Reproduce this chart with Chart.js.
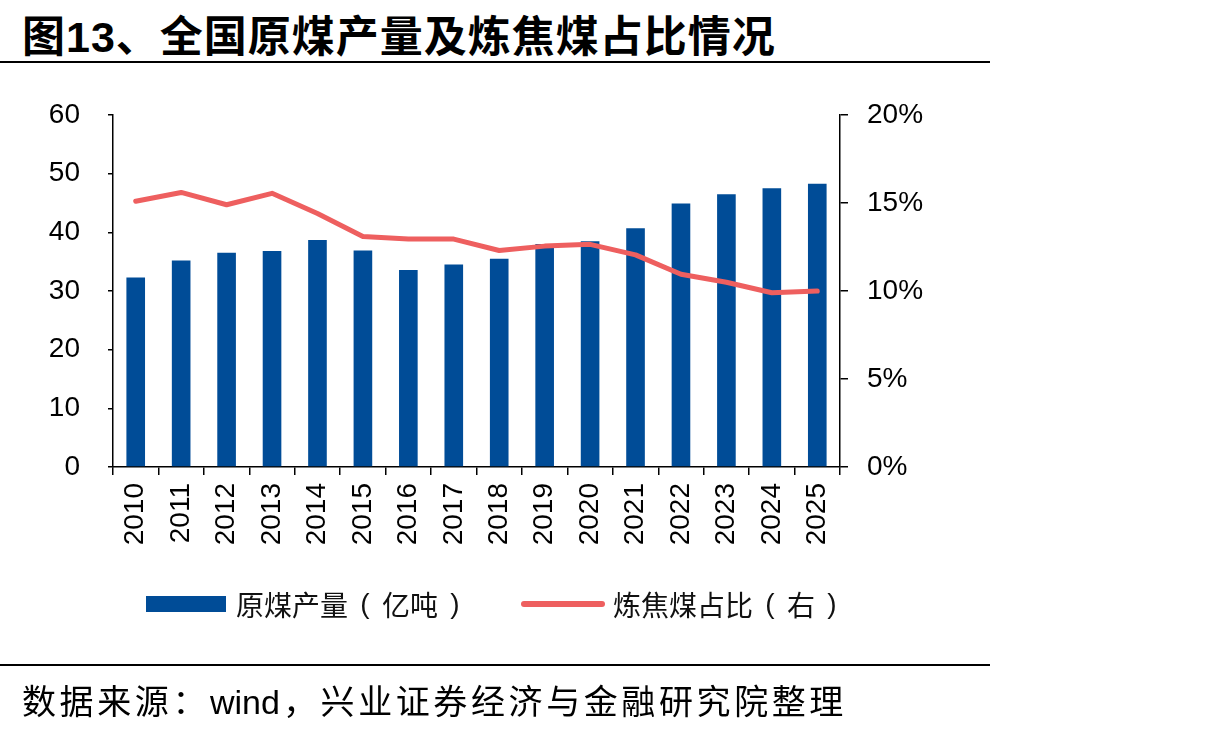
<!DOCTYPE html>
<html>
<head>
<meta charset="utf-8">
<script src="https://cdn.jsdelivr.net/npm/chart.js@4/dist/chart.umd.min.js"></script>
<style>
  body { margin: 0; background: #fff; width: 1205px; height: 732px; overflow: hidden; position: relative;
         font-family: "Liberation Sans", "Noto Sans CJK SC", sans-serif; color: #000; }
  #title { position: absolute; left: 22px; top: 2px; font-size: 43px; font-weight: bold; letter-spacing: 1px; white-space: nowrap; }
  .rule { position: absolute; left: 0; width: 990px; height: 2px; background: #000; }
  #source { position: absolute; left: 22px; top: 675px; font-size: 34px; letter-spacing: 3.6px; white-space: nowrap; }
  #source .latin { letter-spacing: 0; margin-right: 3px; }
  #legend { position: absolute; top: 586px; left: 146px; font-size: 28px; white-space: nowrap; color: #111; }
  .item { position: absolute; top: 0; display: flex; align-items: center; height: 36px; }
  .swatch { display: inline-block; margin-right: 10px; }
  .p { display: inline-block; width: 34px; text-align: center; }
  #wrap { position: absolute; left: 0; top: 0; width: 1205px; height: 732px; }
</style>
</head>
<body>
<div id="title">图13、全国原煤产量及炼焦煤占比情况</div>
<div class="rule" style="top:61px"></div>
<div id="wrap"><canvas id="chart"></canvas></div>
<div id="legend">
  <div class="item" style="left:0"><span class="swatch" style="width:80px;height:16px;background:#004C97"></span>原煤产量<span class="p">(</span>亿吨<span class="p">)</span></div>
  <div class="item" style="left:375px"><span class="swatch" style="width:84px;height:6px;border-radius:3px;background:#EE5F5F;margin-right:8px"></span>炼焦煤占比<span class="p">(</span>右<span class="p">)</span></div>
</div>
<div class="rule" style="top:664px"></div>
<div id="source">数据来源：<span class="latin">wind</span>，兴业证券经济与金融研究院整理</div>

<script>
// 全国原煤产量及炼焦煤占比

const years = ['2010', '2011', '2012', '2013', '2014', '2015', '2016', '2017',
               '2018', '2019', '2020', '2021', '2022', '2023', '2024', '2025'];

// 原煤产量（亿吨）
const rawCoal = [32.3, 35.2, 36.5, 36.8, 38.7, 36.9, 33.6, 34.5,
                 35.5, 38.0, 38.5, 40.7, 44.9, 46.5, 47.5, 48.3];

// 炼焦煤占比（%，右轴）
const cokingShare = [15.1, 15.6, 14.9, 15.55, 14.4, 13.1, 12.95, 12.95,
                     12.3, 12.55, 12.65, 12.05, 10.95, 10.5, 9.9, 10.0];

const leftTicks = [0, 10, 20, 30, 40, 50, 60];
const rightTicks = [0, 5, 10, 15, 20];

const tickFont = { family: '"Liberation Sans", "Noto Sans CJK SC", sans-serif', size: 28 };

const ctx = document.getElementById('chart').getContext('2d');

new Chart(ctx, {
    data: {
        labels: years,
        datasets: [
            {
                type: 'line',
                label: '炼焦煤占比（右）',
                data: cokingShare,
                yAxisID: 'yRight',
                borderColor: '#EE5F5F',
                borderWidth: 5,
                borderCapStyle: 'round',
                borderJoinStyle: 'round',
                pointRadius: 0,
                tension: 0,
                fill: false,
                order: 0
            },
            {
                type: 'bar',
                label: '原煤产量（亿吨）',
                data: rawCoal,
                yAxisID: 'yLeft',
                backgroundColor: '#004C97',
                barPercentage: 0.41,
                categoryPercentage: 1.0,
                order: 1
            }
        ]
    },
    options: {
        responsive: true,
        maintainAspectRatio: false,
        animation: false,
        layout: { padding: { left: 0, top: 115, right: 265, bottom: 165 } },
        plugins: {
            legend: { display: false },
            title: { display: false },
            tooltip: { enabled: false }
        },
        scales: {
            x: {
                offset: true,
                grid: { offset: true, drawOnChartArea: false, tickLength: 8, color: '#000', lineWidth: 1.5 },
                border: { color: '#000', width: 1.5 },
                ticks: { color: '#000', font: tickFont, minRotation: 90, maxRotation: 90, padding: 8, autoSkip: false },
                afterFit: (scale) => { scale.height = 100; }
            },
            yLeft: {
                position: 'left',
                min: 0,
                max: 60,
                afterBuildTicks: (scale) => { scale.ticks = leftTicks.map(v => ({ value: v })); },
                grid: { drawOnChartArea: false, tickLength: 5, color: '#000', lineWidth: 1.5 },
                border: { color: '#000', width: 1.5 },
                ticks: { color: '#000', font: tickFont, padding: 28 },
                afterFit: (scale) => { scale.width = 113; }
            },
            yRight: {
                position: 'right',
                min: 0,
                max: 20,
                afterBuildTicks: (scale) => { scale.ticks = rightTicks.map(v => ({ value: v })); },
                grid: { drawOnChartArea: false, tickLength: 8, color: '#000', lineWidth: 1.5 },
                border: { color: '#000', width: 1.5 },
                ticks: { color: '#000', font: tickFont, padding: 19, callback: (v) => v + '%' },
                afterFit: (scale) => { scale.width = 100; }
            }
        }
    }
});
</script>
</body>
</html>
